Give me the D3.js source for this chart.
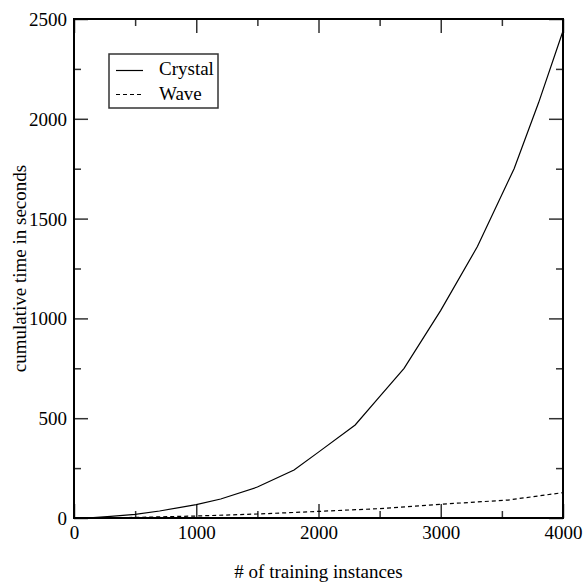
<!DOCTYPE html>
<html>
<head>
<meta charset="utf-8">
<script src="https://cdn.jsdelivr.net/npm/d3@7.9.0/dist/d3.min.js"></script>
<style>
  body { margin: 0; background: #fff; }
  svg text { font-family: "Liberation Serif", "Times New Roman", serif; fill: #000; }
</style>
</head>
<body>
<svg width="584" height="582"></svg>
<script>
// data
const crystalX = [100, 300, 500, 700, 1000, 1200, 1500, 1800, 2000, 2300, 2500, 2700, 3000, 3300, 3600, 3800, 4000];
const crystalY = [0, 8, 18, 35, 67, 95, 155, 240, 330, 466, 608, 750, 1040, 1360, 1750, 2080, 2440];
const waveX = [100, 500, 1000, 1500, 2000, 2500, 3000, 3550, 4000];
const waveY = [0, 3, 10, 20, 33, 47, 69, 90, 127];
const xMajor = [0, 1000, 2000, 3000, 4000];
const xMinor = [500, 1500, 2500, 3500];
const yMajor = [0, 500, 1000, 1500, 2000, 2500];
const yMinor = [250, 750, 1250, 1750, 2250];
const seriesNames = ['Crystal', 'Wave'];

const plotL = 74, plotR = 563, plotT = 19, plotB = 518;
const serif = '"Liberation Serif", "Times New Roman", serif';
const svg = d3.select('svg');

let x = d3.scaleLinear().domain([0, 4000]).range([plotL, plotR]);
let y = d3.scaleLinear().domain([0, 2500]).range([plotB, plotT]);

// ticks, all pointing inside
function addAxis(axis, tx, ty, labels) {
  let g = svg.append('g').attr('transform', `translate(${tx},${ty})`).call(axis);
  g.attr('font-family', serif).attr('font-size', 19);
  g.select('.domain').remove();
  g.selectAll('.tick line').attr('stroke', '#333').attr('stroke-width', 1.5);
  if (!labels) g.selectAll('text').remove();
  return g;
}

let xb = addAxis(d3.axisBottom(x).tickValues(xMajor).tickSize(-14).tickFormat(d3.format('d')), 0, plotB, true);
xb.selectAll('text').attr('y', 21).attr('dy', 0).attr('font-family', serif).attr('font-size', 19);
addAxis(d3.axisBottom(x).tickValues(xMinor).tickSize(-7), 0, plotB, false);
addAxis(d3.axisTop(x).tickValues(xMajor).tickSize(-14), 0, plotT, false);
addAxis(d3.axisTop(x).tickValues(xMinor).tickSize(-7), 0, plotT, false);

let yl = addAxis(d3.axisLeft(y).tickValues(yMajor).tickSize(-14).tickPadding(7).tickFormat(d3.format('d')), plotL, 0, true);
yl.selectAll('text').attr('font-family', serif).attr('font-size', 19).attr('dy', '0.34em');
addAxis(d3.axisLeft(y).tickValues(yMinor).tickSize(-7), plotL, 0, false);
addAxis(d3.axisRight(y).tickValues(yMajor).tickSize(-14), plotR, 0, false);
addAxis(d3.axisRight(y).tickValues(yMinor).tickSize(-7), plotR, 0, false);

// frame
svg.append('rect')
  .attr('x', plotL).attr('y', plotT)
  .attr('width', plotR - plotL).attr('height', plotB - plotT)
  .attr('fill', 'none').attr('stroke', '#000').attr('stroke-width', 2);

// curves
let line = d3.line().x(d => x(d[0])).y(d => y(d[1]));
svg.append('path')
  .attr('d', line(d3.zip(crystalX, crystalY)))
  .attr('fill', 'none').attr('stroke', '#000').attr('stroke-width', 1.2);
svg.append('path')
  .attr('d', line(d3.zip(waveX, waveY)))
  .attr('fill', 'none').attr('stroke', '#000').attr('stroke-width', 1.2)
  .attr('stroke-dasharray', '4,3');

// axis titles
svg.append('text')
  .attr('x', (plotL + plotR) / 2).attr('y', 578)
  .attr('text-anchor', 'middle').attr('font-size', 19)
  .text('# of training instances');
svg.append('text')
  .attr('transform', `translate(26,${(plotT + plotB) / 2}) rotate(-90)`)
  .attr('text-anchor', 'middle').attr('font-size', 19)
  .text('cumulative time in seconds');

// legend
let legend = svg.append('g');
legend.append('rect')
  .attr('x', 109).attr('y', 54).attr('width', 109).attr('height', 54)
  .attr('fill', '#fff').attr('stroke', '#333').attr('stroke-width', 1.5);
seriesNames.forEach((name, i) => {
  let ly = 70.5 + i * 24;
  legend.append('line')
    .attr('x1', 116).attr('x2', 143).attr('y1', ly).attr('y2', ly)
    .attr('stroke', '#000').attr('stroke-width', 1.2)
    .attr('stroke-dasharray', i === 1 ? '4,3' : null);
  legend.append('text')
    .attr('x', 159).attr('y', 75 + i * 25)
    .attr('font-size', 19)
    .text(name);
});
</script>
</body>
</html>
